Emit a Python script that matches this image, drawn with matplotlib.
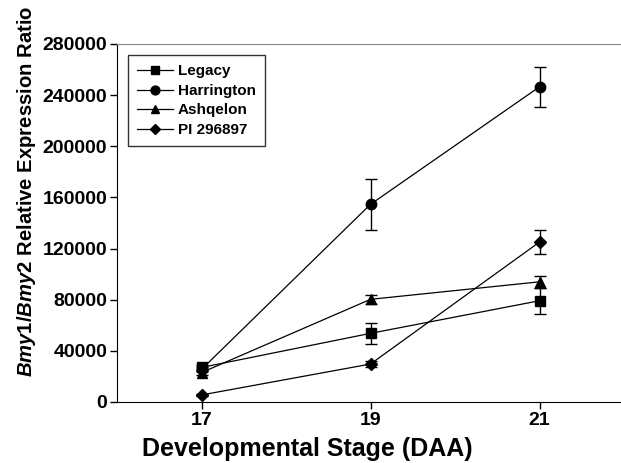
import numpy as np
import matplotlib
matplotlib.use('Agg')
import matplotlib.pyplot as plt

plt.rcParams['font.family'] = 'Liberation Sans'
plt.rcParams['font.weight'] = 'bold'
plt.rcParams['mathtext.fontset'] = 'custom'
plt.rcParams['mathtext.it'] = 'Liberation Sans:italic:bold'
plt.rcParams['mathtext.rm'] = 'Liberation Sans:bold'

stages = [17, 19, 21]
legacy = [27000, 53700, 79200]
legacy_err = [2000, 8000, 10000]
harrington = [25500, 154600, 246500]
harrington_err = [1500, 20000, 15600]
ashqelon = [23000, 80300, 94000]
ashqelon_err = [1500, 3500, 4500]
pi296897 = [5500, 29700, 125100]
pi296897_err = [1000, 2500, 9500]

series = [('Legacy', legacy, legacy_err, 's', 6.5),
          ('Harrington', harrington, harrington_err, 'o', 7.5),
          ('Ashqelon', ashqelon, ashqelon_err, '^', 7.5),
          ('PI 296897', pi296897, pi296897_err, 'D', 6)]

fig = plt.figure(figsize=(6.21, 4.63), dpi=100)
ax = fig.add_axes([117/621, 61/463, 507/621, 358/463])

for name, vals, err, mk, ms in series:
    ax.errorbar(stages, vals, yerr=err, color='black', marker=mk, markersize=ms,
                linewidth=0.9, elinewidth=1.0, capsize=4, capthick=1.0, label=name)

ax.set_xlim(16, 22)
ax.set_ylim(0, 280000)
ax.set_xticks(stages)
ax.set_yticks(np.arange(0, 280001, 40000))
ax.tick_params(direction='out', length=5, width=1, labelsize=14, pad=2)
ax.spines['top'].set_color('#888888')
ax.spines['right'].set_visible(False)
ax.set_xlabel('Developmental Stage (DAA)', fontsize=18, fontweight='bold')
ax.xaxis.set_label_coords(0.376, -0.098)
ax.set_ylabel(r'$\mathit{Bmy1/Bmy2}$ Relative Expression Ratio', fontsize=14.6, fontweight='bold')
ax.yaxis.set_label_coords(-0.156, 0.589)

handles, labels = ax.get_legend_handles_labels()
leg = ax.legend([h[0] for h in handles], labels, loc='upper left',
                bbox_to_anchor=(11/507, 1 - 11/358), borderaxespad=0,
                fancybox=False, edgecolor='black', fontsize=11, handlelength=2.3,
                labelspacing=0.36, borderpad=0.62, handletextpad=0.35, markerscale=0.85)
leg.get_frame().set_linewidth(1.0)

fig.savefig('out.png', dpi=100)
